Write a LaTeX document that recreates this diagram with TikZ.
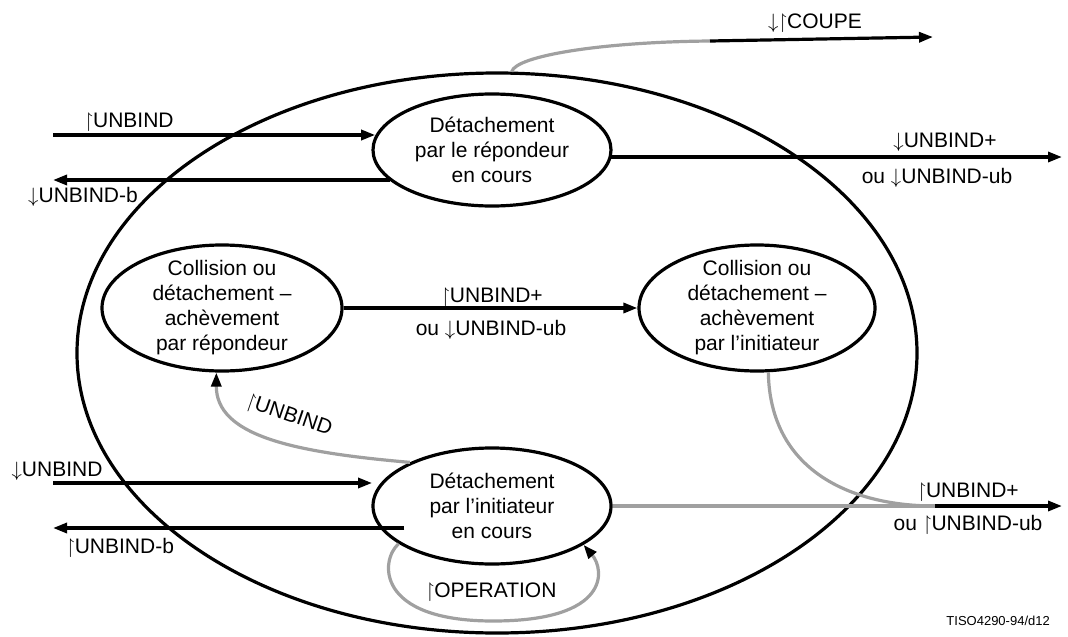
\documentclass[tikz,border=0pt]{standalone}
\usepackage{amssymb}
\usepackage{fontspec}
\setmainfont{Liberation Sans}
\usetikzlibrary{shapes.geometric,arrows.meta}
\newcommand{\UpH}{\ensuremath{\upharpoonright}}
\newcommand{\DnA}{\ensuremath{\downarrow}}
\definecolor{linegray}{RGB}{160,160,160}
\begin{document}
\begin{tikzpicture}[x=1pt,y=-1pt,
  every node/.style={font=\fontsize{21}{25}\selectfont},
  state/.style={draw,ellipse,line width=3.2pt,inner xsep=0pt,inner ysep=-14pt,align=center},
  lbl/.style={anchor=base,inner sep=0pt},
  tip/.style={-{Triangle[length=14pt,width=10pt,color=black]}},
  blk/.style={line width=3.2pt,tip},
  gry/.style={line width=3.2pt,draw=linegray},
]
\useasboundingbox (0,0) rectangle (1068,637);

% outer ellipse
\node[draw,ellipse,line width=3.2pt,inner sep=0pt,minimum width=840pt,minimum height=560pt] (Big) at (497,353) {};

% states
\node[state,minimum width=238pt,minimum height=112pt] (S1) at (492,150) {Détachement\\par le répondeur\\en cours};
\node[state,minimum width=240pt,minimum height=126pt] (S2) at (222,308) {Collision ou\\détachement –\\achèvement\\par répondeur};
\node[state,minimum width=236pt,minimum height=126pt] (S3) at (757,308) {Collision ou\\détachement –\\achèvement\\par l'initiateur};
\node[state,minimum width=238pt,minimum height=116pt] (S4) at (492,506) {Détachement\\par l'initiateur\\en cours};

% free ends
\coordinate (inTop) at (53,135);
\coordinate (outTop) at (53,180);
\coordinate (outTopR) at (1062,157);
\coordinate (inBot) at (53,483);
\coordinate (outBot) at (53,528);
\coordinate (join) at (935,506);
\coordinate (outBotR) at (1062,506);
\coordinate (cut) at (710,41);
\coordinate (cutEnd) at (933,37);

% top state connectors
\draw[blk] (inTop) -- (inTop -| S1.173);
\draw[blk] (outTop -| S1.197) -- (outTop);
\draw[blk] (outTopR -| S1.356) -- (outTopR);
\node[lbl] (lA) at (129,127) {\UpH UNBIND};
\node[lbl] (lB) at (83,202) {\DnA UNBIND-b};
\node[lbl] (lC) at (945,147) {\DnA UNBIND+};
\node[lbl] (lD) at (937,183) {ou \DnA UNBIND-ub};

% middle connector
\draw[blk] (S2.east) -- (S3.west);
\node[lbl] (lE) at (492,302) {\UpH UNBIND+};
\node[lbl] (lF) at (491,335) {ou \DnA UNBIND-ub};

% bottom state connectors
\draw[blk] (inBot) -- (inBot -| S4.183);
\draw[blk] (outBot -| S4.205) -- (outBot);
\node[lbl] (lG) at (57,476) {\DnA UNBIND};
\node[lbl] (lH) at (120,553) {\UpH UNBIND-b};

% gray transitions
\draw[gry,tip] (S4.152) .. controls (290,452) and (216,435) .. (S2.265);
\node[rotate=-19,inner sep=0pt] (lI) at (289,416) {\UpH UNBIND};

\draw[gry] (S3.280) .. controls (770,470) and (850,506) .. (join);
\draw[gry] (S4.east) -- (join);
\draw[blk] (join) -- (outBotR);
\node[lbl] (lJ) at (968,497) {\UpH UNBIND+};
\node[lbl] (lK) at (968,530) {ou \UpH UNBIND-ub};

\draw[gry,tip] (S4.202) .. controls (380,560) and (375,621) .. (493,621)
  .. controls (610,621) and (605,570) .. (S4.337);
\node[lbl] (lL) at (491,597) {\UpH OPERATION};

\draw[gry] (Big.87) .. controls (516,56) and (600,42) .. (cut);
\draw[blk] (cut) -- (cutEnd);
\node[lbl] (lM) at (815,28) {\DnA\UpH COUPE};

\node[anchor=base east,inner sep=0pt,font=\fontsize{13}{15}\selectfont] (ref) at (1050,625) {TISO4290-94/d12};
\end{tikzpicture}
\end{document}
